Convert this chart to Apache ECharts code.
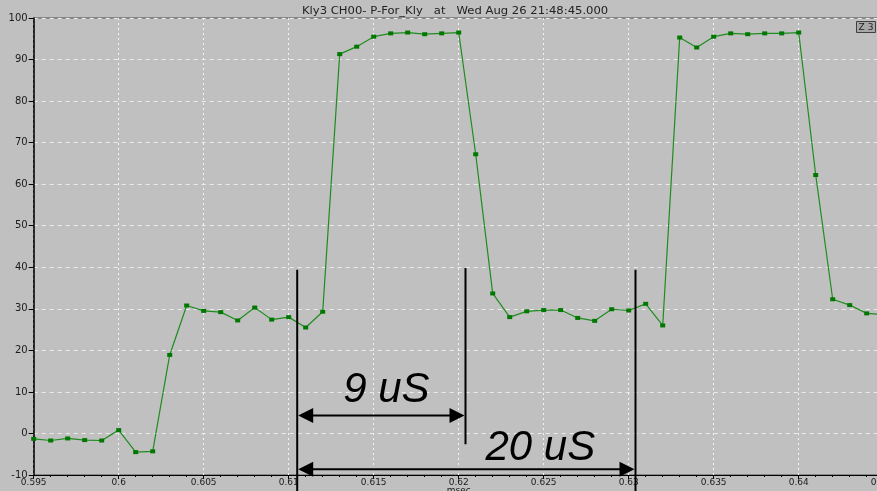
<!DOCTYPE html>
<html>
<head>
<meta charset="utf-8">
<title>Kly3 CH00- P-For_Kly</title>
<script src="https://cdn.jsdelivr.net/npm/echarts@6/dist/echarts.min.js"></script>
<style>
  html, body { margin: 0; padding: 0; background: #c0c0c0; }
  #chart { width: 877px; height: 491px; }
</style>
</head>
<body>
<div id="chart"></div>
<script>
// Sample times (msec) of the forward-power trace
const times = [
  0.595, 0.596, 0.597, 0.598, 0.599, 0.600, 0.601, 0.602, 0.603, 0.604,
  0.605, 0.606, 0.607, 0.608, 0.609, 0.610, 0.611, 0.612, 0.613, 0.614,
  0.615, 0.616, 0.617, 0.618, 0.619, 0.620, 0.621, 0.622, 0.623, 0.624,
  0.625, 0.626, 0.627, 0.628, 0.629, 0.630, 0.631, 0.632, 0.633, 0.634,
  0.635, 0.636, 0.637, 0.638, 0.639, 0.640, 0.641, 0.642, 0.643, 0.644,
  0.645
];
// Forward power readings for each sample
const power = [
  -1.3, -1.7, -1.2, -1.6, -1.7, 0.8, -4.5, -4.3, 18.9, 30.8,
  29.5, 29.2, 27.2, 30.3, 27.4, 28.0, 25.5, 29.3, 91.3, 93.1,
  95.5, 96.3, 96.5, 96.1, 96.3, 96.5, 67.2, 33.7, 28.0, 29.4,
  29.7, 29.7, 27.8, 27.1, 29.9, 29.6, 31.2, 26.0, 95.3, 92.9,
  95.5, 96.3, 96.1, 96.3, 96.3, 96.5, 62.2, 32.3, 30.9, 28.9,
  28.6
];
// Cursor positions (msec) and the vertical extent of each cursor line
const cursorTimes = [0.6105, 0.6204, 0.6304];
const cursorTop = [39.4, 39.8, 39.4];
const cursorBottom = [-14.5, -2.6, -14.5];
// Measured spans between cursors
const spanStart = [0, 0];
const spanEnd = [1, 2];
const spanLevel = [4.3, -8.6];
const spanLabels = ['9 uS', '20 uS'];
// Axis ticks
const yTicks = [-10, 0, 10, 20, 30, 40, 50, 60, 70, 80, 90, 100];
const xMin = 0.595, xMax = 0.645, xStep = 0.005;

const chart = echarts.init(document.getElementById('chart'), null, { renderer: 'canvas' });

const fmtX = v => String(parseFloat(Number(v).toFixed(3)));
const tickFont = { fontFamily: 'DejaVu Sans', fontSize: 9, color: '#1a1a1a' };

// Per-span label placement (pixel offsets from the arrow midpoint)
const labelShift = [[5, -25], [74, -21]];

function arrowHead(tip, dir) {
  const len = 15, half = 7.5;
  return {
    type: 'polygon',
    shape: { points: [tip, [tip[0] - dir * len, tip[1] - half], [tip[0] - dir * len, tip[1] + half]] },
    style: { fill: '#000' }
  };
}

function renderCursors(params, api) {
  const children = [];
  cursorTimes.forEach((t, i) => {
    const a = api.coord([t, cursorTop[i]]);
    const b = api.coord([t, cursorBottom[i]]);
    children.push({
      type: 'line',
      shape: { x1: a[0], y1: a[1], x2: b[0], y2: b[1] },
      style: { stroke: '#000', lineWidth: 2 }
    });
  });
  spanLabels.forEach((label, i) => {
    const p1 = api.coord([cursorTimes[spanStart[i]], spanLevel[i]]);
    const p2 = api.coord([cursorTimes[spanEnd[i]], spanLevel[i]]);
    children.push({
      type: 'line',
      shape: { x1: p1[0] + 4, y1: p1[1], x2: p2[0] - 4, y2: p2[1] },
      style: { stroke: '#000', lineWidth: 2 }
    });
    children.push(arrowHead([p1[0] + 1, p1[1]], -1));
    children.push(arrowHead([p2[0] - 1, p2[1]], 1));
    children.push({
      type: 'text',
      x: (p1[0] + p2[0]) / 2 + labelShift[i][0],
      y: p1[1] + labelShift[i][1],
      style: {
        text: label,
        font: 'italic 42px "Liberation Sans", Arial, sans-serif',
        fill: '#000',
        align: 'center',
        verticalAlign: 'middle'
      }
    });
  });
  return { type: 'group', children };
}

chart.setOption({
  backgroundColor: '#c0c0c0',
  animation: false,
  grid: {
    left: 33.7,
    right: -6.7,
    top: 18,
    bottom: 16,
    outerBoundsMode: 'none',
    containLabel: false,
    show: true,
    borderColor: '#505050',
    borderWidth: 1,
    backgroundColor: 'transparent'
  },
  xAxis: {
    type: 'value',
    min: xMin,
    max: xMax,
    interval: xStep,
    name: 'msec',
    nameLocation: 'middle',
    nameGap: 11,
    nameMoveOverlap: false,
    nameTextStyle: { ...tickFont, verticalAlign: 'top' },
    axisLine: { show: true, onZero: false, lineStyle: { color: '#000', width: 1 } },
    axisTick: { show: true, length: 4, lineStyle: { color: '#000' } },
    minorTick: { show: true, splitNumber: 5, length: 2, lineStyle: { color: '#000' } },
    axisLabel: { ...tickFont, margin: 3, formatter: fmtX, showMaxLabel: true, showMinLabel: true, hideOverlap: false },
    splitLine: { show: true, lineStyle: { color: '#f4f4f4', type: [2, 3], width: 1 } }
  },
  yAxis: {
    type: 'value',
    min: yTicks[0],
    max: yTicks[yTicks.length - 1],
    interval: yTicks[1] - yTicks[0],
    axisLine: { show: true, onZero: false, lineStyle: { color: '#000', width: 1.5 } },
    axisTick: { show: true, length: 5, lineStyle: { color: '#000' } },
    axisLabel: { ...tickFont, fontSize: 10, margin: 6 },
    splitLine: { show: true, lineStyle: { color: '#ececec', type: [4, 4], width: 1 } }
  },
  series: [
    {
      name: 'P-For_Kly',
      type: 'line',
      data: times.map((t, i) => [t, power[i]]),
      symbol: 'rect',
      symbolSize: [5, 4],
      showAllSymbol: true,
      itemStyle: { color: '#007800' },
      lineStyle: { color: '#1e8c1e', width: 1.2 },
      clip: true,
      z: 3
    },
    {
      name: 'cursors',
      type: 'custom',
      data: [0],
      clip: false,
      renderItem: renderCursors,
      silent: true,
      z: 5
    }
  ],
  graphic: [
    {
      type: 'text',
      left: 302,
      top: 6,
      scaleX: 1.16,
      style: {
        text: 'Kly3 CH00- P-For_Kly   at   Wed Aug 26 21:48:45.000',
        font: '10px "DejaVu Sans"',
        fill: '#222'
      }
    },
    {
      type: 'group',
      right: 1,
      top: 21,
      children: [
        { type: 'rect', shape: { x: 0, y: 0, width: 19, height: 11 },
          style: { fill: '#a8a8a8', stroke: '#404040', lineWidth: 1 } },
        { type: 'text', x: 9.5, y: 6, style: { text: 'Z 3', font: '9px "DejaVu Sans"', fill: '#202020', align: 'center', verticalAlign: 'middle' } }
      ]
    }
  ]
});
</script>
</body>
</html>
